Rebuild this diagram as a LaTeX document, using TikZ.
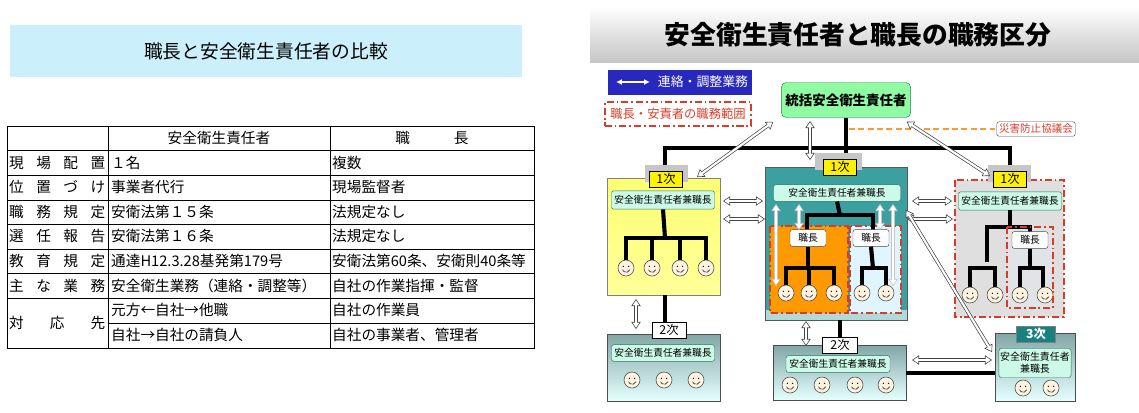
\documentclass[tikz,border=0pt]{standalone}
\usepackage{fontspec}
\setmainfont{Noto Sans CJK JP}
\usetikzlibrary{arrows.meta}
\definecolor{mint}{RGB}{205,250,232}
\definecolor{mintline}{RGB}{40,120,90}
\definecolor{legblue}{RGB}{40,40,190}
\definecolor{redline}{RGB}{215,60,40}
\definecolor{tealbox}{RGB}{60,160,160}

\tikzset{
  lbl/.style={draw=mintline,fill=mint,rounded corners=2pt,inner sep=1pt,font=\fontsize{8.3}{10}\selectfont},
  ord/.style={draw=black,fill=yellow,inner sep=0pt,minimum width=1cm,minimum height=0.48cm,font=\fontsize{10.5}{10}\selectfont},
  ordw/.style={ord,fill=white},
  shade/.style={fill=gray!45},
  duty/.style={draw=redline,line width=1.6pt,dash pattern=on 6pt off 2.5pt on 1.5pt off 2.5pt},
  tree/.style={line width=3.5pt},
  hollow/.tip={Triangle[length=6pt,width=8pt,fill=white,line width=0.5pt]},
  link/.style={draw=gray!55!black,line width=3pt,hollow-hollow,
    postaction={draw=white,line width=1.8pt,shorten <=5pt,shorten >=5pt,arrows=-}},
  face/.pic={
    \draw[fill=yellow!15!orange!10,draw=gray!60!black,line width=0.5pt] (0,0) circle (0.24cm);
    \fill (-0.08cm,0.05cm) circle (0.6pt) (0.08cm,0.05cm) circle (0.6pt);
    \draw[line width=0.4pt] (-0.11cm,-0.05cm) arc (200:340:0.12cm);
  },
  kbox/.style={draw=gray!60!black,fill=white,rounded corners=2pt,minimum width=1.08cm,minimum height=0.46cm,font=\fontsize{8.3}{8}\selectfont},
  cell/.style={anchor=west,inner sep=0pt,font=\fontsize{12.5}{12}\selectfont}
}

\begin{document}
\begin{tikzpicture}[x=0.03cm,y=-0.03cm]
\useasboundingbox (0,0) rectangle (1139,412);

% left: comparison table
\node[fill=cyan!20,minimum width=15.36cm,minimum height=1.56cm,font=\fontsize{16}{16}\selectfont] (title1) at (266,51) {職長と安全衛生責任者の比較};

\draw[line width=0.8pt] (7,126) rectangle (534,348);
\draw (108,126) -- (108,348) (330,126) -- (330,348);
\foreach \y in {150,175,200,224,249,273,298} \draw (7,\y) -- (534,\y);
\draw (108,323) -- (534,323);

\node[cell,anchor=center] (h1) at (219,138) {安全衛生責任者};
\node[cell,anchor=center] (h2) at (432,138) {職\hspace{3em}長};
\foreach \a/\b/\c [count=\i] in {
  {現\hfill 場\hfill 配\hfill 置}/１名/複数,
  {位\hfill 置\hfill づ\hfill け}/事業者代行/現場監督者,
  {職\hfill 務\hfill 規\hfill 定}/安衛法第１５条/法規定なし,
  {選\hfill 任\hfill 報\hfill 告}/安衛法第１６条/法規定なし,
  {教\hfill 育\hfill 規\hfill 定}/通達H12.3.28基発第179号/安衛法第60条、安衛則40条等,
  {主\hfill な\hfill 業\hfill 務}/安全衛生業務（連絡・調整等）/自社の作業指揮・監督}{
  \node[cell] (r\i a) at (9,138+24.6*\i) {\makebox[2.88cm][s]{\a}};
  \node[cell] (r\i b) at (111,138+24.6*\i) {\b};
  \node[cell] (r\i c) at (332,138+24.6*\i) {\c};
}
\node[cell] (r7a) at (9,323) {\makebox[2.88cm][s]{対\hfill 応\hfill 先}};
\node[cell] (r7b) at (111,310) {元方←自社→他職};
\node[cell] (r7c) at (332,310) {自社の作業員};
\node[cell] (r8b) at (111,335) {自社→自社の請負人};
\node[cell] (r8c) at (332,335) {自社の事業者、管理者};

% right: duty chart
\shade[top color=white,bottom color=gray!45] (590,6) rectangle (1139,62);
\node[font=\bfseries\fontsize{22}{22}\selectfont] (title2) at (858,35) {安全衛生責任者と職長の職務区分};

\node[fill=legblue,minimum width=4.32cm,minimum height=0.75cm] (leg1) at (680,82) {};
\coordinate (la) at (616,82);
\coordinate (lb) at (650,82);
\draw[white,line width=1.5pt,{Latex[length=5pt,width=5pt]}-{Latex[length=5pt,width=5pt]}] (la) -- (lb);
\node[white,font=\fontsize{11}{11}\selectfont] (leg1t) at (703,82) {連絡・調整業務};
\node[duty,text=redline,minimum width=4.4cm,minimum height=0.7cm,font=\fontsize{10.5}{10}\selectfont] (leg2) at (678,114) {職長・安責者の職務範囲};

\node[draw=mintline,fill=green!30!mint,rounded corners=4pt,minimum width=3.81cm,minimum height=1.05cm,font=\bfseries\fontsize{11.5}{11}\selectfont] (chief) at (846,100) {統括安全衛生責任者};
\node[draw=gray!60!black,rounded corners=2pt,text=redline,inner sep=2pt,font=\fontsize{9}{9}\selectfont] (council) at (1036,129) {災害防止協議会};
\coordinate (oc) at (849,129);
\draw[orange!80,line width=1.5pt,dash pattern=on 5pt off 3pt] (oc) -- (council.west);

% first tier boxes
\shade[top color=yellow!55!white,bottom color=yellow!40!white,draw=gray] (607,178) rectangle (720,295);
\fill[tealbox!40!white] (765,167) rectangle (907,320);
\fill[tealbox] (765,167) rectangle (907,310);
\draw[gray!70!black] (765,167) rectangle (907,320);
\fill[gray!25] (955,180) rectangle (1064,317);

\draw[line width=4pt] (chief) -- (846,148) coordinate (hub);
\draw[line width=4pt] (665,172) -- (665,148) -- (1010,148) -- (1010,172);
\draw[line width=4pt] (hub) -- (846,162);

\node[lbl,minimum width=3.09cm,minimum height=0.55cm] (L) at (663,200) {安全衛生責任者兼職長};
\node[lbl,minimum width=3.81cm,minimum height=0.5cm] (C) at (837,193) {安全衛生責任者兼職長};
\node[lbl,minimum width=3.09cm,minimum height=0.55cm] (R) at (1010,201) {安全衛生責任者兼職長};

% left tree
\draw[tree] (L.south) -- (665,238);
\draw[tree] (626,262) -- (626,238) -- (706,238) -- (706,262);
\draw[tree] (652,238) -- (652,262) (680,238) -- (680,262);
\foreach \x in {626,652,680,706} \pic at (\x,268) {face};

% center duty regions
\fill[orange!80!yellow] (770,226) rectangle (848,313);
\fill[cyan!12] (850,226) rectangle (901,313);
\draw[duty] (770,226) rectangle (848,313);
\draw[duty] (850,226) rectangle (901,313);
\draw[tree] (C.south) -- (840,215);
\draw[tree] (807,232) -- (807,215) -- (873,215) -- (873,232);
\node[kbox] (k1) at (808,238) {職長};
\node[kbox] (k2) at (871,238) {職長};
\draw[tree] (k1.south) -- (808,268);
\draw[tree] (786,288) -- (786,268) -- (834,268) -- (834,288) (809,268) -- (809,288);
\draw[tree] (k2.south) -- (873,268);
\draw[tree] (862,288) -- (862,268) -- (886,268) -- (886,288);
\foreach \x in {786,809,834,862,886} \pic at (\x,293) {face};
\draw[link,draw=gray!45,line width=2.6pt] (776,204) -- (776,286);
\draw[link,draw=gray!45,line width=2.6pt] (799,204) -- (799,230);
\draw[link,draw=gray!45,line width=2.6pt] (880,204) -- (880,230);
\draw[link,draw=gray!45,line width=2.6pt] (893,204) -- (893,286);

% right tree
\fill[cyan!12!gray!25] (1007,227) rectangle (1053,308);
\draw[tree] (R.south) -- (1010,227);
\draw[tree] (987,262) -- (987,227) -- (1030,227) -- (1030,232);
\draw[tree] (970,288) -- (970,268) -- (995,268) -- (995,288);
\node[kbox] (k3) at (1030,240) {職長};
\draw[tree] (k3.south) -- (1030,268);
\draw[tree] (1020,288) -- (1020,268) -- (1043,268) -- (1043,288);
\foreach \x in {970,995,1020,1045} \pic at (\x,295) {face};
\draw[duty] (1007,227) rectangle (1053,308);
\draw[duty] (955,180) rectangle (1064,317);

% tier labels
\fill[shade] (645,165) rectangle (688,182);
\fill[shade] (815,153) rectangle (862,170);
\fill[shade] (988,165) rectangle (1031,182);
\node[ord] (o1) at (666,179) {1次};
\node[ord] (o2) at (840,167) {1次};
\node[ord] (o3) at (1010,179) {1次};

% lower tiers
\draw[line width=4pt] (665,295) -- (665,330);
\draw[line width=4pt] (840,320) -- (840,345);
\shade[top color=gray!60!teal!70,bottom color=cyan!10,draw=gray!60!black] (607,334) rectangle (720,401);
\shade[top color=gray!60!teal!70,bottom color=cyan!10,draw=gray!60!black] (773,345) rectangle (906,400);
\shade[top color=gray!60!teal!70,bottom color=cyan!10,draw=gray!60!black] (995,333) rectangle (1075,401);
\draw[line width=4pt] (906,373) -- (995,373);
\node[ordw,minimum width=1.02cm] (o4) at (669,330) {2次};
\node[ordw,minimum width=1.05cm] (o5) at (840,345) {2次};
\node[ord,fill=teal!80!gray,text=white,minimum width=1.17cm,draw=gray] (o6) at (1036,334) {\bfseries 3次};
\node[lbl,minimum width=3.09cm,minimum height=0.5cm] (L2) at (663,353) {安全衛生責任者兼職長};
\node[lbl,minimum width=3.12cm,minimum height=0.5cm] (C2) at (838,364) {安全衛生責任者兼職長};
\node[lbl,align=center,minimum width=2.13cm,minimum height=0.87cm,font=\fontsize{8.5}{10}\selectfont] (R2) at (1035,363) {安全衛生責任者\\兼職長};
\foreach \x in {632,664,696} \pic at (\x,380) {face};
\foreach \x in {790,822,855,886} \pic at (\x,385) {face};
\foreach \x in {1023,1051} \pic at (\x,388) {face};

% liaison arrows
\draw[link] (chief.south west) ++(-8,4) coordinate (c1) -- (697,177);
\draw[link] (chief.south east) ++(-4,4) coordinate (c2) -- (990,176);
\draw[link] (810,121) -- (810,160);
\draw[link] (723,201) -- (763,201);
\draw[link] (912,201) -- (952,201);
\draw[link] (723,219) -- (765,219);
\draw[link] (907,219) -- (953,219);
\draw[link] (906,210) -- (992,352);
\draw[link] (636,299) -- (636,329);
\draw[link] (806,321) -- (806,346);
\draw[link] (912,360) -- (992,360);
\end{tikzpicture}
\end{document}
